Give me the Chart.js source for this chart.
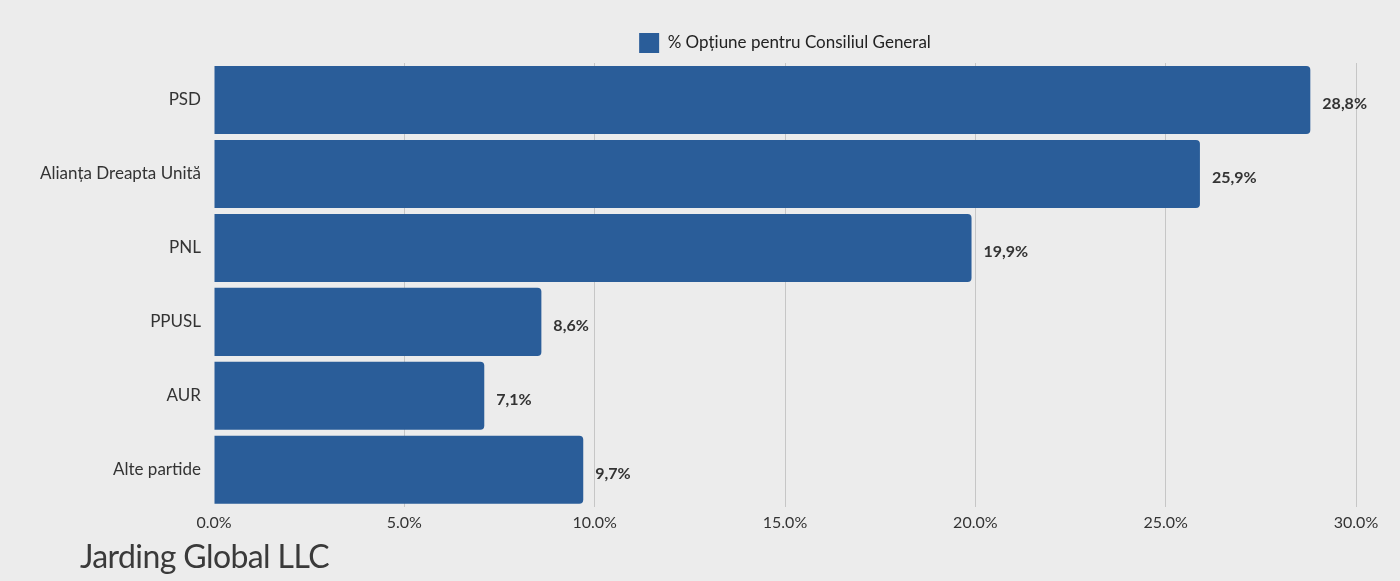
<!DOCTYPE html>
<html>
<head>
<meta charset="utf-8">
<script src="https://cdn.jsdelivr.net/npm/chart.js@4/dist/chart.umd.min.js"></script>
<style>
  html, body { margin: 0; padding: 0; background: #ececec; }
  #wrap { position: relative; width: 1400px; height: 581px; }
  #firm { position: absolute; left: 80px; top: 536px; font-family: Lato, sans-serif;
          font-size: 32px; color: #3a3a3a; letter-spacing: -0.6px; }
</style>
</head>
<body>
<div id="wrap">
  <canvas id="myChart" width="1400" height="581"></canvas>
  <div id="firm">Jarding Global LLC</div>
</div>
<script>
let parties = ['PSD', 'Alianța Dreapta Unită', 'PNL', 'PPUSL', 'AUR', 'Alte partide'];
let votes = [28.8, 25.9, 19.9, 8.6, 7.1, 9.7];
let seriesName = '% Opțiune pentru Consiliul General';

// value labels at the end of each bar
let valueLabels = {
    id: 'valueLabels',
    afterDatasetsDraw: function (chart) {
        let ctx = chart.ctx;
        let meta = chart.getDatasetMeta(0);
        ctx.save();
        ctx.font = 'bold 16px Lato, sans-serif';
        ctx.fillStyle = '#333333';
        ctx.textBaseline = 'middle';
        ctx.textAlign = 'left';
        meta.data.forEach(function (bar, i) {
            let txt = votes[i].toFixed(1).replace('.', ',') + '%';
            ctx.fillText(txt, bar.x + 12, bar.y + 4);
        });
        ctx.restore();
    }
};

// legend sits centred over the plot area, not the whole canvas
let legendShift = {
    id: 'legendShift',
    afterLayout: function (chart) {
        let lg = chart.legend;
        let a = chart.chartArea;
        let d = (a.left + a.right) / 2 - (lg.left + lg.right) / 2;
        lg.left += d;
        lg.right += d;
    }
};

function chartInit() {
    let ctx = document.getElementById('myChart').getContext('2d');
    new Chart(ctx, {
        type: 'bar',
        data: {
            labels: parties,
            datasets: [{
                label: seriesName,
                data: votes,
                backgroundColor: '#2a5d99',
                borderRadius: 4,
                borderSkipped: 'start',
                barPercentage: 0.92,
                categoryPercentage: 1.0
            }]
        },
        plugins: [valueLabels, legendShift],
        options: {
            indexAxis: 'y',
            responsive: false,
            animation: false,
            layout: { padding: { left: 0, right: 44, top: 23, bottom: 43 } },
            plugins: {
                legend: {
                    position: 'top',
                    labels: {
                        boxWidth: 20,
                        boxHeight: 20,
                        padding: 10,
                        color: '#222222',
                        font: { family: 'Lato, sans-serif', size: 17 }
                    }
                },
                tooltip: { enabled: false }
            },
            scales: {
                x: {
                    min: 0,
                    max: 30,
                    ticks: {
                        stepSize: 5,
                        padding: 6,
                        color: '#333333',
                        font: { family: 'Lato, sans-serif', size: 16 },
                        callback: function (v) { return v.toFixed(1) + '%'; }
                    },
                    grid: {
                        drawTicks: false,
                        color: function (c) { return c.tick && c.tick.value === 0 ? 'rgba(0,0,0,0)' : '#c6c6c6'; }
                    },
                    border: { display: false }
                },
                y: {
                    afterFit: function (scale) { scale.width = 214; },
                    ticks: {
                        padding: 5,
                        color: '#333333',
                        font: { family: 'Lato, sans-serif', size: 17 }
                    },
                    grid: { display: false },
                    border: { display: false }
                }
            }
        }
    });
}

chartInit();
</script>
</body>
</html>
